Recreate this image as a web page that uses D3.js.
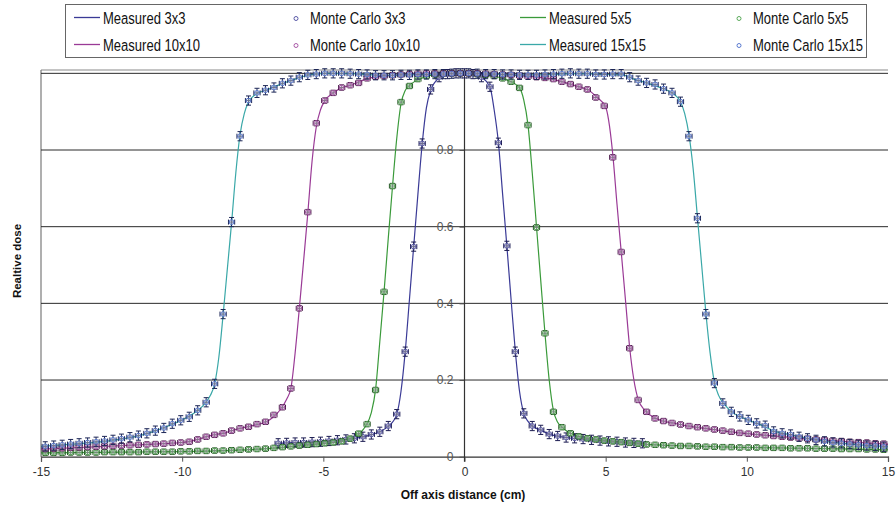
<!DOCTYPE html>
<html>
<head>
<meta charset="utf-8">
<script src="https://cdn.jsdelivr.net/npm/d3@7"></script>
<style>
  html, body { margin: 0; padding: 0; background: #fff; }
  svg text { font-family: "Liberation Sans", Arial, sans-serif; }
</style>
</head>
<body>
<svg id="chart" width="896" height="506"></svg>
<script>
// Off-axis dose profiles: measured scans (lines) and Monte Carlo points (markers with error bars)

// Monte Carlo sampling positions (cm)
const mcGridHalf = [
  -14.85,-14.55,-14.25,-13.95,-13.65,-13.35,-13.05,-12.75,-12.45,-12.15,
  -11.85,-11.55,-11.25,-10.95,-10.65,-10.35,-10.05,-9.75,-9.45,-9.15,
  -8.85,-8.55,-8.25,-7.95,-7.65,-7.35,-7.05,-6.75,-6.45,-6.15,
  -5.85,-5.55,-5.25,-4.95,-4.65,-4.35,-4.05,-3.75,-3.45,-3.15,
  -2.85,-2.55,-2.25,-1.95,-1.65,-1.35,-1.05,-0.75,-0.45,-0.15,
  0.15,0.45,0.75,1.05,1.35,1.65,1.95,2.25,2.55,2.85,
  3.15,3.45,3.75,4.05,4.35,4.65,4.95,5.25,5.55,5.85,
  6.15,6.45,6.75,7.05,7.35,7.65,7.95,8.25,8.55,8.85,
  9.15,9.45,9.75,10.05,10.35,10.65,10.95,11.25,11.55,11.85,
  12.15,12.45,12.75,13.05,13.35,13.65,13.95,14.25,14.55,14.85
];
const mcGrid3 = [
  -6.6,-6.3,-6.0,-5.7,-5.4,-5.1,-4.8,-4.5,-4.2,-3.9,-3.6,-3.3,-3.0,-2.7,-2.4,-2.1,
  -1.8,-1.5,-1.2,-0.9,-0.6,-0.3,0,0.3,0.6,0.9,1.2,1.5,1.8,2.1,2.4,2.7,3.0,3.3,3.6,
  3.9,4.2,4.5,4.8,5.1,5.4,5.7,6.0,6.3
];

// Monte Carlo relative dose values
const mc3 = [
  .035,.036,.037,.037,.038,.039,.041,.043,.045,.048,.052,.058,.065,.080,.111,.274,
  .548,.817,.958,.990,.998,1.0,1.0,.998,.990,.965,.819,.550,.274,.113,.080,.070,.059,.054,.050,
  .048,.046,.044,.042,.040,.039,.037,.036,.035
];
const mc5 = [
  .010,.010,.010,.011,.011,.011,.011,.012,.012,.012,
  .012,.012,.013,.013,.013,.013,.014,.014,.015,.015,
  .016,.016,.017,.018,.019,.020,.021,.023,.025,.027,
  .029,.031,.033,.035,.037,.040,.047,.060,.085,.174,
  .430,.706,.925,.967,.985,.993,.997,1.0,1.0,1.0,
  1.0,.998,.996,.993,.987,.978,.962,.865,.598,.322,
  .117,.077,.061,.053,.048,.045,.042,.040,.038,.036,
  .034,.032,.031,.030,.029,.028,.028,.027,.026,.026,
  .025,.025,.024,.024,.024,.023,.023,.023,.022,.022,
  .022,.021,.021,.021,.020,.020,.020,.019,.019,.018
];
const mc10 = [
  .020,.021,.022,.023,.024,.025,.026,.027,.028,.029,
  .030,.031,.032,.033,.034,.036,.037,.039,.045,.052,
  .057,.061,.068,.074,.078,.085,.091,.109,.129,.178,
  .387,.638,.870,.929,.949,.963,.969,.975,.987,.991,
  .993,.995,.997,.998,.999,1.0,1.0,1.0,1.0,1.0,
  1.0,1.0,.999,.998,.997,.996,.994,.992,.990,.988,
  .985,.978,.972,.965,.958,.937,.915,.781,.534,.283,
  .148,.117,.100,.093,.088,.084,.080,.077,.074,.071,
  .068,.065,.062,.060,.058,.056,.054,.052,.050,.048,
  .047,.045,.044,.042,.041,.039,.038,.037,.035,.034
];
const mc15 = [
  .027,.029,.031,.033,.035,.037,.039,.041,.044,.047,
  .051,.055,.061,.068,.075,.086,.095,.104,.121,.142,
  .190,.372,.612,.836,.929,.949,.956,.963,.974,.981,
  .990,.996,.998,1.0,1.0,1.0,.999,.998,.997,.995,
  .995,.995,.996,.996,.997,.997,.998,.998,.999,1.0,
  1.0,.999,.998,.998,.997,.997,.996,.996,.996,.997,
  .998,.999,1.0,.999,.999,.997,.997,.998,.998,.990,
  .981,.975,.971,.960,.949,.926,.836,.622,.372,.192,
  .139,.117,.105,.096,.087,.081,.066,.061,.058,.052,
  .048,.044,.040,.037,.035,.033,.031,.029,.028,.026
];

// Measured profiles as [off-axis distance (cm), relative dose]
const meas3 = [
  [-6.6,.035],[-5.5,.038],[-4.5,.043],[-3.9,.048],[-3.3,.057],[-3.0,.065],[-2.7,.079],
  [-2.5,.095],[-2.4,.11],[-2.25,.17],[-2.1,.274],[-1.95,.41],[-1.8,.548],[-1.65,.685],
  [-1.5,.815],[-1.35,.91],[-1.2,.955],[-0.9,.988],[-0.5,.999],[-0.15,1.0],[0.3,.998],
  [0.6,.99],[0.9,.965],[1.05,.905],[1.2,.82],[1.35,.685],[1.5,.55],[1.65,.41],[1.8,.275],
  [1.95,.17],[2.1,.113],[2.25,.092],[2.4,.08],[2.7,.069],[3.0,.059],[3.6,.05],[4.5,.044],
  [5.5,.038],[6.4,.035]
];
const meas5 = [
  [-15,.01],[-12,.012],[-10,.013],[-8,.017],[-7,.021],[-6,.027],[-5,.034],[-4.5,.039],
  [-4.2,.045],[-3.9,.052],[-3.7,.062],[-3.5,.08],[-3.3,.115],[-3.15,.175],[-3.0,.3],
  [-2.85,.43],[-2.7,.57],[-2.55,.705],[-2.4,.83],[-2.25,.92],[-2.1,.955],[-1.95,.968],
  [-1.5,.988],[-1,.997],[0,1.0],[1,.993],[1.5,.983],[1.95,.962],[2.1,.93],[2.25,.865],
  [2.4,.74],[2.55,.6],[2.7,.46],[2.85,.322],[3.0,.2],[3.15,.12],[3.3,.09],[3.45,.077],
  [3.75,.061],[4.2,.05],[5,.042],[6,.035],[7,.03],[8,.028],[10,.024],[12,.022],[15,.018]
];
const meas10 = [
  [-15,.02],[-13,.026],[-11,.033],[-10,.037],[-9.5,.044],[-9,.055],[-8.5,.062],[-8,.073],
  [-7.5,.081],[-7,.092],[-6.75,.105],[-6.5,.125],[-6.3,.15],[-6.15,.178],[-6.0,.27],
  [-5.85,.387],[-5.7,.51],[-5.55,.635],[-5.4,.77],[-5.25,.86],[-5.1,.905],[-4.95,.928],
  [-4.65,.949],[-4.35,.962],[-4,.97],[-3.5,.985],[-3,.992],[-2,.997],[-1,1.0],[0,1.0],
  [1,.998],[2,.994],[3,.986],[3.5,.977],[4,.966],[4.4,.956],[4.7,.937],[5.0,.912],
  [5.1,.88],[5.25,.79],[5.4,.66],[5.55,.535],[5.7,.41],[5.85,.285],[6.0,.2],[6.15,.15],
  [6.4,.12],[6.75,.101],[7.5,.086],[8,.079],[9,.069],[10,.06],[11,.054],[12,.047],
  [13,.042],[14,.037],[15,.033]
];
const meas15 = [
  [-15,.027],[-14,.032],[-13,.038],[-12,.048],[-11.5,.055],[-11,.066],[-10.5,.08],[-10,.096],
  [-9.5,.118],[-9.2,.138],[-9.0,.16],[-8.85,.19],[-8.7,.26],[-8.55,.37],[-8.4,.49],
  [-8.25,.61],[-8.1,.74],[-7.95,.84],[-7.8,.895],[-7.65,.925],[-7.4,.945],[-7,.957],
  [-6.5,.972],[-6,.985],[-5.5,.996],[-5,1.0],[-4,.999],[-3,.995],[-2,.996],[-1,.998],
  [0,1.0],[1,.998],[2,.996],[3,.997],[4,.999],[5,.997],[5.6,.996],[6,.985],[6.5,.974],
  [7,.961],[7.4,.947],[7.65,.926],[7.8,.895],[7.95,.84],[8.1,.75],[8.25,.625],[8.4,.5],
  [8.55,.375],[8.7,.27],[8.85,.195],[9.0,.16],[9.2,.137],[9.5,.115],[10,.097],[10.5,.083],
  [11,.066],[11.5,.058],[12,.05],[13,.038],[14,.031],[15,.026]
];

// Axis ticks
const xTicks = [-15, -10, -5, 0, 5, 10, 15];
const yTicks = [0, 0.2, 0.4, 0.6, 0.8];
const gridTicks = [0.2, 0.4, 0.6, 0.8, 1.0];

const measured = [
  { name: "Measured 3x3",   data: meas3,  color: "#3a3a96" },
  { name: "Measured 5x5",   data: meas5,  color: "#3a9a3a" },
  { name: "Measured 10x10", data: meas10, color: "#9a3a96" },
  { name: "Measured 15x15", data: meas15, color: "#3aa8a8" }
];
const monteCarlo = [
  { name: "Monte Carlo 3x3",   xs: mcGrid3,    ys: mc3,  color: "#5a5aa8", bar: "#1c1c52", yErr: 0.012 },
  { name: "Monte Carlo 5x5",   xs: mcGridHalf, ys: mc5,  color: "#5aaa5a", bar: "#245524", yErr: 0.007 },
  { name: "Monte Carlo 10x10", xs: mcGridHalf, ys: mc10, color: "#aa5aa8", bar: "#4e1e4e", yErr: 0.007 },
  { name: "Monte Carlo 15x15", xs: mcGridHalf, ys: mc15, color: "#5a7ad0", bar: "#1c2656", yErr: 0.012 }
];
const xErr = 0.11;

const svg = d3.select("#chart");

const x = d3.scaleLinear().domain([-15, 15]).range([41, 888]);
const y = d3.scaleLinear().domain([0, 1.0087]).range([456.7, 70]);

// plot frame
svg.append("line").attr("x1", x(-15)).attr("x2", x(15)).attr("y1", 70).attr("y2", 70)
  .attr("stroke", "#8a8a8a").attr("stroke-width", 1.2);
svg.append("line").attr("x1", x(-15)).attr("x2", x(-15)).attr("y1", 70).attr("y2", y(0))
  .attr("stroke", "#7a7a7a").attr("stroke-width", 1.2);

// horizontal gridlines
svg.append("g").selectAll("line").data(gridTicks).join("line")
  .attr("x1", x(-15)).attr("x2", x(15))
  .attr("y1", d => y(d)).attr("y2", d => y(d))
  .attr("stroke", "#2a2a2a").attr("stroke-width", 1);

// x axis along dose = 0
const xAxis = d3.axisBottom(x).tickValues(xTicks).tickSize(5).tickPadding(6)
  .tickFormat(d => d3.format("d")(d).replace("\u2212", "-"));
const gx = svg.append("g").attr("transform", `translate(0,${y(0)})`).call(xAxis);
gx.select(".domain").attr("stroke", "#333").attr("stroke-width", 1.2);
gx.selectAll(".tick line").attr("stroke", "#555");
gx.selectAll(".tick text").attr("fill", "#333").attr("font-size", 12);

// y axis crossing at x = 0
const yAxis = d3.axisLeft(y).tickValues(yTicks).tickSize(5).tickPadding(6)
  .tickFormat(d => d === 0 ? "0" : d3.format(".1f")(d));
const gy = svg.append("g").attr("transform", `translate(${x(0)},0)`).call(yAxis);
gy.select(".domain").remove();
gy.selectAll(".tick line").attr("stroke", "#555");
gy.selectAll(".tick text").attr("fill", "#555").attr("font-size", 12);
svg.append("line").attr("x1", x(0)).attr("x2", x(0)).attr("y1", 70).attr("y2", y(0) + 5)
  .attr("stroke", "#333").attr("stroke-width", 1.2);

// measured profiles
const line = d3.line().x(d => x(d[0])).y(d => y(d[1])).curve(d3.curveMonotoneX);
svg.append("g").selectAll("path").data(measured).join("path")
  .attr("d", d => line(d.data))
  .attr("fill", "none")
  .attr("stroke", d => d.color)
  .attr("stroke-width", 1.2);

// Monte Carlo points with error bars
const capX = 2.5;
monteCarlo.forEach(s => {
  const pts = s.xs.map((xv, i) => [xv, s.ys[i]]);
  const g = svg.append("g");
  const p = g.selectAll("g").data(pts).join("g");
  p.append("line")
    .attr("x1", d => x(d[0] - xErr)).attr("x2", d => x(d[0] + xErr))
    .attr("y1", d => y(d[1])).attr("y2", d => y(d[1]))
    .attr("stroke", s.bar).attr("stroke-width", 1);
  p.append("line")
    .attr("x1", d => x(d[0] - xErr)).attr("x2", d => x(d[0] - xErr))
    .attr("y1", d => y(d[1]) - capX).attr("y2", d => y(d[1]) + capX)
    .attr("stroke", s.bar).attr("stroke-width", 1);
  p.append("line")
    .attr("x1", d => x(d[0] + xErr)).attr("x2", d => x(d[0] + xErr))
    .attr("y1", d => y(d[1]) - capX).attr("y2", d => y(d[1]) + capX)
    .attr("stroke", s.bar).attr("stroke-width", 1);
  p.append("line")
    .attr("x1", d => x(d[0])).attr("x2", d => x(d[0]))
    .attr("y1", d => y(d[1] - s.yErr)).attr("y2", d => y(d[1] + s.yErr))
    .attr("stroke", s.bar).attr("stroke-width", 1);
  p.append("line")
    .attr("x1", d => x(d[0]) - capX).attr("x2", d => x(d[0]) + capX)
    .attr("y1", d => y(d[1] - s.yErr)).attr("y2", d => y(d[1] - s.yErr))
    .attr("stroke", s.bar).attr("stroke-width", 1);
  p.append("line")
    .attr("x1", d => x(d[0]) - capX).attr("x2", d => x(d[0]) + capX)
    .attr("y1", d => y(d[1] + s.yErr)).attr("y2", d => y(d[1] + s.yErr))
    .attr("stroke", s.bar).attr("stroke-width", 1);
  p.append("circle")
    .attr("cx", d => x(d[0])).attr("cy", d => y(d[1])).attr("r", 2.4)
    .attr("fill", "rgba(215,215,225,0.45)")
    .attr("stroke", s.color).attr("stroke-width", 1);
});

// axis titles
svg.append("text").attr("x", 463).attr("y", 499).attr("text-anchor", "middle")
  .attr("font-size", 12).attr("font-weight", "bold").attr("fill", "#111")
  .text("Off axis distance (cm)");
svg.append("text").attr("transform", "translate(21,261) rotate(-90)")
  .attr("text-anchor", "middle").attr("font-size", 11.5).attr("font-weight", "bold").attr("fill", "#111")
  .text("Realtive dose");

// legend
const legend = svg.append("g");
legend.append("rect").attr("x", 65.5).attr("y", 4.5).attr("width", 801).attr("height", 53)
  .attr("fill", "#fff").attr("stroke", "#666").attr("stroke-width", 1);
const legendItems = [
  { label: measured[0].name,   kind: "line", color: measured[0].color,   col: 0, row: 0 },
  { label: monteCarlo[0].name, kind: "dot",  color: monteCarlo[0].color, col: 1, row: 0 },
  { label: measured[1].name,   kind: "line", color: measured[1].color,   col: 2, row: 0 },
  { label: monteCarlo[1].name, kind: "dot",  color: monteCarlo[1].color, col: 3, row: 0 },
  { label: measured[2].name,   kind: "line", color: measured[2].color,   col: 0, row: 1 },
  { label: monteCarlo[2].name, kind: "dot",  color: monteCarlo[2].color, col: 1, row: 1 },
  { label: measured[3].name,   kind: "line", color: measured[3].color,   col: 2, row: 1 },
  { label: monteCarlo[3].name, kind: "dot",  color: monteCarlo[3].color, col: 3, row: 1 }
];
const colX = [74, 289, 520, 732];
const rowY = [17.5, 44.5];
legendItems.forEach(it => {
  const lx = colX[it.col], ly = rowY[it.row];
  if (it.kind === "line") {
    legend.append("line").attr("x1", lx).attr("x2", lx + 26).attr("y1", ly).attr("y2", ly)
      .attr("stroke", it.color).attr("stroke-width", 1.3);
  } else {
    legend.append("circle").attr("cx", lx + 7).attr("cy", ly + 1).attr("r", 2)
      .attr("fill", "none").attr("stroke", it.color).attr("stroke-width", 1);
  }
  // condensed label text
  const tx = it.kind === "line" ? lx + 29 : lx + 21;
  legend.append("text")
    .attr("transform", `translate(${tx},${ly + 6}) scale(0.79,1)`)
    .attr("font-size", 16.5).attr("fill", "#111").text(it.label);
});
</script>
</body>
</html>
